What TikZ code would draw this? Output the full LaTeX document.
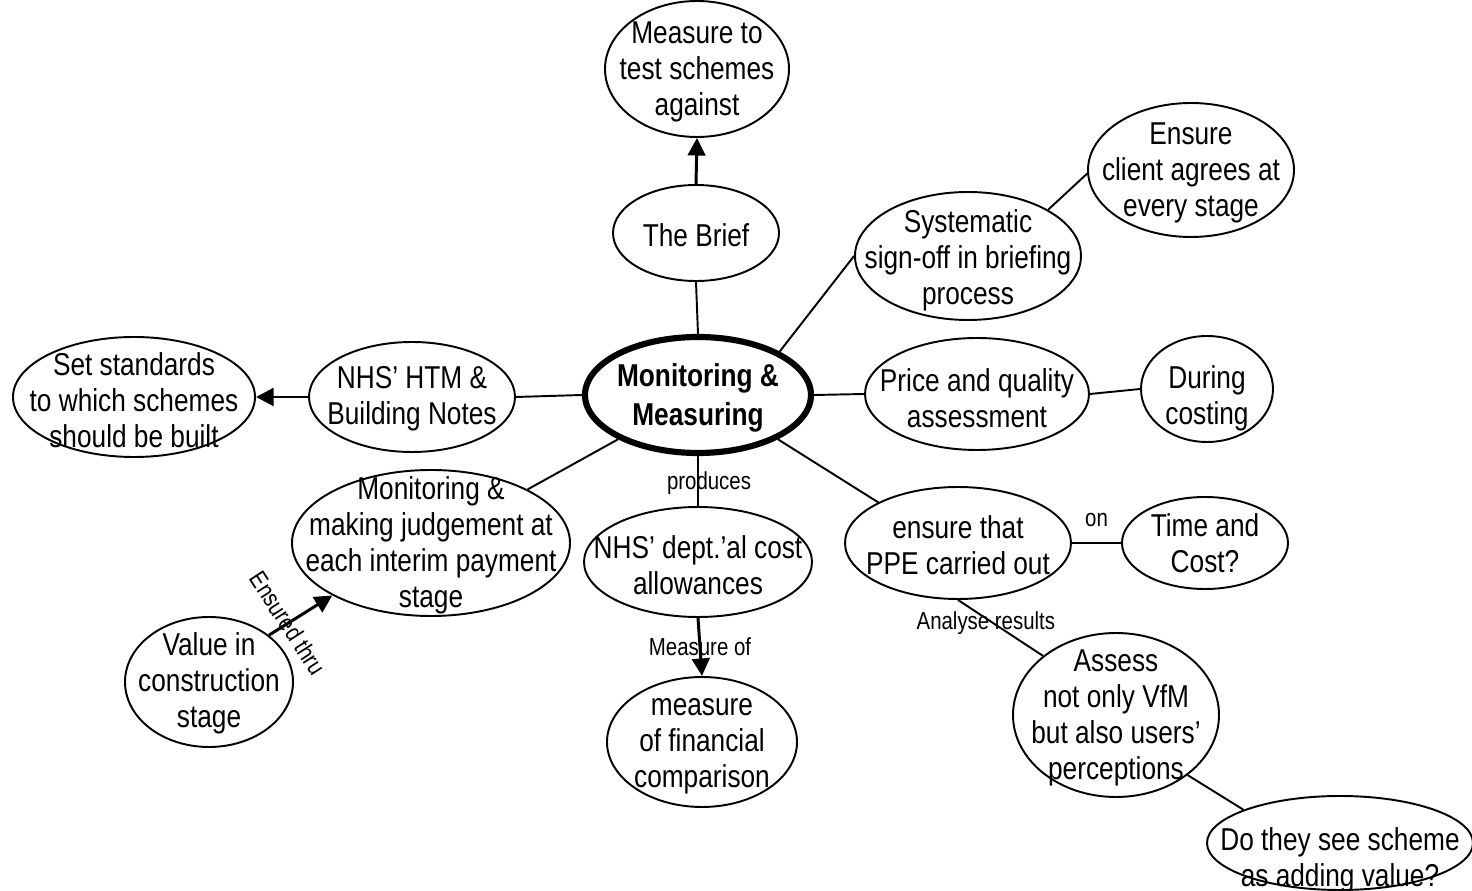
\documentclass[tikz,border=0pt]{standalone}
\usepackage{fontspec}
\setmainfont{Liberation Sans}[FakeStretch=0.83]
\usetikzlibrary{shapes.geometric,arrows.meta}

\begin{document}
\begin{tikzpicture}[x=0.02cm,y=-0.02cm,
  bub/.style 2 args={ellipse,draw,line width=1.1pt,inner sep=0pt,
    minimum width=#1*0.02cm,minimum height=#2*0.02cm},
  txt/.style={align=center,inner sep=0pt,font=\fontsize{18}{20.5}\selectfont},
  lbl/.style={inner sep=0pt,font=\fontsize{14}{16}\selectfont},
  link/.style={line width=1.1pt},
  arr/.style={line width=1.7pt,-{Triangle[length=10pt,width=10pt]}}]

\useasboundingbox[fill=white] (0,0) rectangle (1472,891);

% centre
\node[bub={226}{116},line width=3.5pt] (main) at (698,395) {};
\node[txt,font=\fontsize{18}{22}\selectfont\bfseries] (mainT) at (698,398) {Monitoring \&\\Measuring};

% surrounding bubbles
\node[bub={166}{96}]  (brief)   at (696,233)  {};
\node[bub={184}{136}] (measure) at (697,69)   {};
\node[bub={226}{128}] (sys)     at (968,256)  {};
\node[bub={206}{134}] (ens)     at (1191,170) {};
\node[bub={206}{110}] (htm)     at (412,397)  {};
\node[bub={242}{120}] (std)     at (134,397)  {};
\node[bub={224}{112}] (price)   at (977,394)  {};
\node[bub={132}{106}] (during)  at (1207,389) {};
\node[bub={278}{146}] (judge)   at (431,543)  {};
\node[bub={168}{130}] (value)   at (209,682)  {};
\node[bub={228}{110}] (dept)    at (698,562)  {};
\node[bub={190}{130}] (fin)     at (702,742)  {};
\node[bub={226}{112}] (ppe)     at (958,543)  {};
\node[bub={166}{92}]  (timec)   at (1205,543) {};
\node[bub={206}{164}] (assess)  at (1116,715) {};
\node[bub={266}{94}]  (adding)  at (1340,843) {};

% bubble texts
\node[txt] (briefT)   at (696,235)  {The Brief};
\node[txt] (measureT) at (697,72)   {Measure to\\test schemes\\against};
\node[txt] (sysT)     at (968,260)  {Systematic\\sign-off in briefing\\process};
\node[txt] (ensT)     at (1191,173) {Ensure\\client agrees at\\every stage};
\node[txt] (htmT)     at (412,399)  {NHS’ HTM \&\\Building Notes};
\node[txt] (stdT)     at (134,400)  {Set standards\\to which schemes\\should be built};
\node[txt] (priceT)   at (977,398)  {Price and quality\\assessment};
\node[txt] (duringT)  at (1207,398) {During\\costing};
\node[txt] (judgeT)   at (431,545)  {Monitoring \&\\making judgement at\\each interim payment\\stage};
\node[txt] (valueT)   at (209,683)  {Value in\\construction\\stage};
\node[txt] (deptT)    at (698,565)  {NHS’ dept.’al cost\\allowances};
\node[txt] (finT)     at (702,746)  {measure\\of financial\\comparison};
\node[txt] (ppeT)     at (958,545)  {ensure that\\PPE carried out};
\node[txt] (timecT)   at (1205,543) {Time and\\Cost?};
\node[txt] (assessT)  at (1116,718) {Assess\\not only VfM\\but also users’\\perceptions};
\node[txt] (addingT)  at (1340,860) {Do they see scheme\\as adding value?};

% connectors
\draw[link] (brief.south) -- (main.north);
\draw[arr]  (brief.north) -- (measure.south);
\draw[link] (main.28) -- (sys.west);
\draw[link] (sys.30) -- (ens.182);
\draw[link] (main.east) -- (price.west);
\draw[link] (price.east) -- (during.west);
\draw[link] (main.331) -- (ppe.153);
\draw[link] (ppe.east) -- node[lbl,midway,yshift=0.46cm] (onT) {on} (timec.west);
\draw[link] (ppe.south) -- node[lbl,pos=0.41,xshift=-0.14cm] (analyseT) {Analyse results} (assess.141);
\draw[link] (assess.320) -- (adding.161);
\draw[link] (main.south) -- node[lbl,pos=0.54,xshift=0.22cm] (producesT) {produces} (dept.north);
\draw[arr]  (dept.south) -- node[lbl,midway] (ofT) {Measure of} (fin.north);
\draw[link] (main.209) -- (judge.29);
\draw[arr]  (value.38) -- (judge.208);
\node[lbl,rotate=-57] (ensuredT) at (288,623) {Ensured thru};
\draw[link] (main.west) -- (htm.east);
\draw[arr]  (htm.west) -- (std.east);

\end{tikzpicture}
\end{document}
